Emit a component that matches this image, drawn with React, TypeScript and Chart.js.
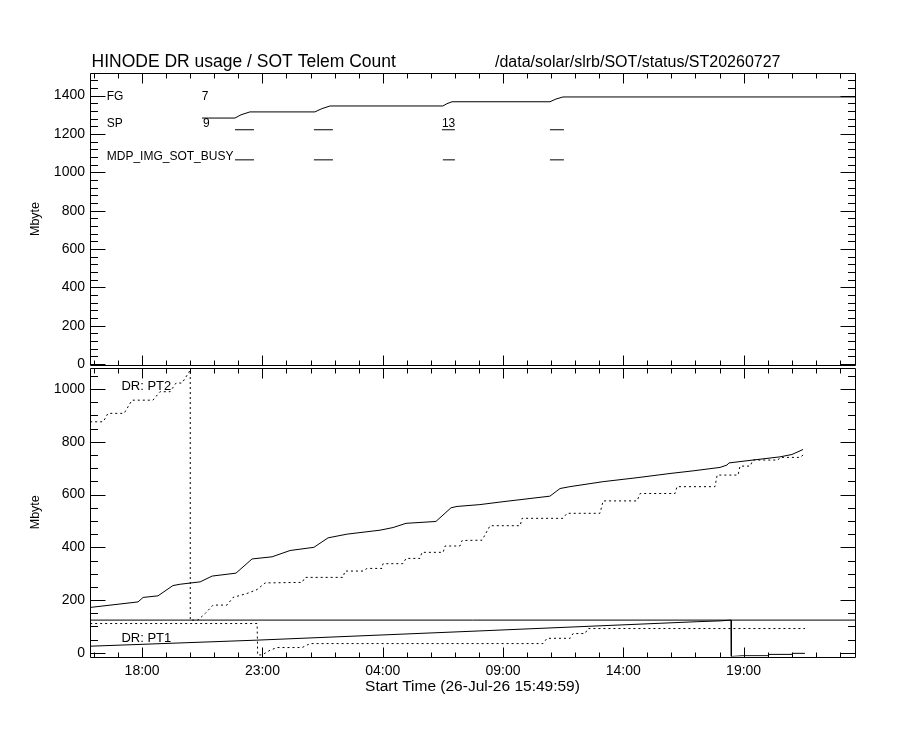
import { useEffect, useRef } from "react";
import { Chart, registerables } from "chart.js";

Chart.register(...registerables);

const FONT = '"Liberation Sans", Arial, Helvetica, sans-serif';

// time axis, hours since 26-Jul-26 00:00
const startHour = 15.8331; // 15:49:59
const endHour = 47.63;
const xTickValues = [18, 23, 28, 33, 38, 43];
const xTickLabels = ["18:00", "23:00", "04:00", "09:00", "14:00", "19:00"];

const sotYTicks = [0, 200, 400, 600, 800, 1000, 1200, 1400];
const drYTicks = [0, 200, 400, 600, 800, 1000];

// top panel: SOT telemetry count
const sotHours = [20.49, 21.86, 22.11, 22.48, 25.18, 25.47, 25.81, 30.5, 30.67, 30.88, 34.95, 35.2, 35.49, 47.63];
const sotMb = [1283, 1283, 1300, 1315, 1315, 1332, 1346, 1346, 1358, 1368, 1368, 1382, 1393, 1393];

// observation runs (start, end hour)
const spRuns = [[21.86, 22.65], [25.14, 25.93], [30.46, 31.0], [34.95, 35.53]];
const mdpRuns = [[21.86, 22.65], [25.14, 25.93], [30.5, 31.0], [34.95, 35.53]];
const spRow = 1222;
const mdpRow = 1065;

// bottom panel: data recorder PT2
const pt2Hours = [15.84, 17.83, 18.04, 18.66, 19.28, 19.58, 20.41, 20.91, 21.9, 22.57, 23.4, 24.15, 25.14, 25.73, 26.52, 27.89, 28.43, 28.97, 30.21, 30.84, 31.09, 32.04, 33.0, 34.95, 35.37, 35.78, 37.16, 38.57, 39.94, 40.9, 42.02, 42.31, 42.39, 43.39, 44.51, 45.01, 45.47];
const pt2Mb = [172, 193, 210, 216, 255, 260, 269, 291, 302, 356, 364, 388, 400, 436, 450, 465, 475, 491, 498, 550, 555, 562, 573, 594, 623, 630, 649, 664, 680, 690, 703, 712, 720, 731, 743, 752, 771];

const pt2DotHours = [15.84, 16.38, 16.58, 17.25, 17.58, 18.45, 18.74, 19.16, 19.41, 19.66, 20.0, 20.0, 20.32, 20.62, 20.95, 21.53, 21.78, 22.36, 22.78, 23.11, 24.65, 24.77, 26.35, 26.43, 27.18, 27.35, 27.97, 28.01, 28.84, 28.97, 29.55, 29.63, 30.51, 30.59, 31.21, 31.3, 32.13, 32.46, 33.71, 33.79, 35.49, 35.66, 37.03, 37.16, 38.57, 38.7, 40.15, 40.23, 41.81, 41.9, 42.77, 42.85, 43.27, 43.39, 44.43, 44.51, 45.35, 45.47];
const pt2DotMb = [876, 876, 908, 908, 958, 958, 990, 990, 1023, 1023, 1072, 124, 124, 149, 181, 181, 210, 225, 240, 265, 267, 286, 286, 310, 310, 320, 320, 338, 338, 358, 358, 381, 381, 405, 405, 426, 427, 482, 482, 510, 510, 529, 529, 576, 576, 604, 604, 630, 630, 674, 674, 708, 708, 731, 731, 741, 741, 750];

// bottom panel: data recorder PT1
const pt1Hours = [15.84, 22.77, 32.04, 39.53, 41.07, 42.02, 42.48, 42.49, 42.98, 44.02, 44.04, 45.01, 45.03, 45.55];
const pt1Mb = [25, 48, 83, 112, 118, 121, 124, -14, -11, -11, -6, -6, -2, -2];

const pt1DotHours = [15.84, 22.78, 22.8, 22.98, 23.32, 23.61, 24.65, 24.98, 34.66, 34.83, 35.79, 35.91, 36.41, 36.53, 45.55];
const pt1DotMb = [111, 111, -8, -8, 10, 20, 20, 35, 35, 55, 55, 73, 73, 92, 92];

const pt1Limit = 124;

const zip = (xs: number[], ys: number[]) => xs.map((x, i) => ({ x, y: ys[i] }));
const runs = (list: number[][], level: number) =>
  list.flatMap(([a, b]) => [
    { x: a, y: level },
    { x: b, y: level },
    { x: b, y: null },
  ]);

type Note = { text: string; x: number; y: number; size: number };

// IDL style frame: box with inward ticks on all four sides, plus text
function makeFrame(major: number, minor: number, notes: Note[], titles: boolean) {
  return {
    id: "idlFrame",
    afterDraw(chart: Chart) {
      const { ctx, chartArea: a } = chart;
      const xs = chart.scales.x;
      const ys = chart.scales.y;
      const snap = (v: number) => Math.round(v) + 0.5;
      const L = snap(a.left), R = snap(a.right), T = snap(a.top), B = snap(a.bottom);
      ctx.save();
      ctx.strokeStyle = "#000";
      ctx.lineWidth = 1;
      ctx.beginPath();
      ctx.rect(L, T, R - L, B - T);
      for (let h = Math.ceil(xs.min); h <= xs.max; h++) {
        const x = snap(xs.getPixelForValue(h));
        const len = xTickValues.includes(h) ? 10 : 5;
        ctx.moveTo(x, B);
        ctx.lineTo(x, B - len);
        ctx.moveTo(x, T);
        ctx.lineTo(x, T + len);
      }
      for (let v = Math.ceil(ys.min / minor) * minor; v <= ys.max; v += minor) {
        const y = snap(ys.getPixelForValue(v));
        const len = v % major === 0 ? 15 : 7.5;
        ctx.moveTo(L, y);
        ctx.lineTo(L + len, y);
        ctx.moveTo(R, y);
        ctx.lineTo(R - len, y);
      }
      ctx.stroke();

      ctx.fillStyle = "#000";
      ctx.textAlign = "left";
      ctx.textBaseline = "middle";
      for (const n of notes) {
        ctx.font = `${n.size}px ${FONT}`;
        ctx.fillText(n.text, xs.getPixelForValue(n.x), ys.getPixelForValue(n.y));
      }
      if (titles) {
        ctx.textBaseline = "alphabetic";
        ctx.font = `17.5px ${FONT}`;
        ctx.fillText("HINODE DR usage / SOT Telem Count", a.left + 1.5, a.top - 6.5);
        ctx.font = `16px ${FONT}`;
        ctx.fillText("/data/solar/slrb/SOT/status/ST20260727", a.left + 405, a.top - 6.5);
      }
      ctx.restore();
    },
  };
}

const sotNotes: Note[] = [
  { text: "FG", x: 16.53, y: 1397, size: 12 },
  { text: "7", x: 20.48, y: 1397, size: 12 },
  { text: "SP", x: 16.53, y: 1252, size: 12 },
  { text: "9", x: 20.53, y: 1252, size: 12 },
  { text: "13", x: 30.46, y: 1252, size: 12 },
  { text: "MDP_IMG_SOT_BUSY", x: 16.53, y: 1082, size: 12 },
];

const drNotes: Note[] = [
  { text: "DR: PT2", x: 17.14, y: 1012, size: 13 },
  { text: "DR: PT1", x: 17.14, y: 55, size: 13 },
];

const axisFont = { family: FONT, size: 14 };

function yScale(min: number, max: number, ticks: number[]) {
  return {
    type: "linear" as const,
    min,
    max,
    afterBuildTicks: (s: any) => {
      s.ticks = ticks.map((value) => ({ value }));
    },
    afterFit: (s: any) => {
      s.width = 90;
    },
    grid: { display: false, drawTicks: false },
    border: { display: false },
    ticks: {
      color: "#000",
      font: axisFont,
      padding: 5,
      callback: (v: any) => String(v),
    },
    title: {
      display: true,
      text: "Mbyte",
      color: "#000",
      font: { family: FONT, size: 12.5 },
      padding: { top: 28, bottom: 0 },
    },
  };
}

const line = (data: any[], dotted = false) => ({
  data,
  borderColor: "#000",
  borderWidth: 1,
  borderDash: dotted ? [2, 3] : [],
  pointRadius: 0,
  spanGaps: false,
  fill: false,
});

export default function App() {
  const topRef = useRef<HTMLCanvasElement>(null);
  const bottomRef = useRef<HTMLCanvasElement>(null);

  useEffect(() => {
    if (!topRef.current || !bottomRef.current) return;

    const top = new Chart(topRef.current, {
      type: "line",
      data: {
        datasets: [
          line(zip(sotHours, sotMb)),
          line(runs(spRuns, spRow)),
          line(runs(mdpRuns, mdpRow)),
        ],
      },
      options: {
        responsive: false,
        animation: false,
        layout: { padding: { left: 0, right: 45, top: 73, bottom: 365 } },
        plugins: { legend: { display: false }, tooltip: { enabled: false } },
        scales: {
          x: { type: "linear", min: startHour, max: endHour, display: false },
          y: yScale(-5, 1518, sotYTicks),
        },
      },
      plugins: [makeFrame(200, 40, sotNotes, true)],
    });

    const bottom = new Chart(bottomRef.current, {
      type: "line",
      data: {
        datasets: [
          line(zip(pt2Hours, pt2Mb)),
          line(zip(pt2DotHours, pt2DotMb), true),
          line(zip(pt1Hours, pt1Mb)),
          line(zip(pt1DotHours, pt1DotMb), true),
          line([
            { x: startHour, y: pt1Limit },
            { x: endHour, y: pt1Limit },
          ]),
        ],
      },
      options: {
        responsive: false,
        animation: false,
        layout: { padding: { left: 0, right: 45, top: 368, bottom: 0 } },
        plugins: { legend: { display: false }, tooltip: { enabled: false } },
        scales: {
          x: {
            type: "linear",
            min: startHour,
            max: endHour,
            afterBuildTicks: (s: any) => {
              s.ticks = xTickValues.map((value) => ({ value }));
            },
            afterFit: (s: any) => {
              s.height = 73.5;
            },
            grid: { display: false, drawTicks: false },
            border: { display: false },
            ticks: {
              color: "#000",
              font: axisFont,
              padding: 6,
              maxRotation: 0,
              autoSkip: false,
              callback: (v: any) => xTickLabels[xTickValues.indexOf(Number(v))] ?? "",
            },
            title: {
              display: true,
              text: "Start Time (26-Jul-26 15:49:59)",
              color: "#000",
              font: { family: FONT, size: 15.5 },
              padding: { top: 0, bottom: 34 },
            },
          },
          y: yScale(-14, 1080, drYTicks),
        },
      },
      plugins: [makeFrame(200, 50, drNotes, false)],
    });

    return () => {
      top.destroy();
      bottom.destroy();
    };
  }, []);

  const canvasStyle = { position: "absolute" as const, left: 0, top: 0 };
  return (
    <div style={{ position: "absolute", left: 0, top: 0, width: 900, height: 730, background: "#fff" }}>
      <canvas ref={topRef} width={900} height={730} style={canvasStyle} />
      <canvas
        ref={bottomRef}
        width={900}
        height={730}
        style={canvasStyle}
        role="img"
        aria-label="HINODE data recorder usage and SOT telemetry count over time"
      />
    </div>
  );
}
